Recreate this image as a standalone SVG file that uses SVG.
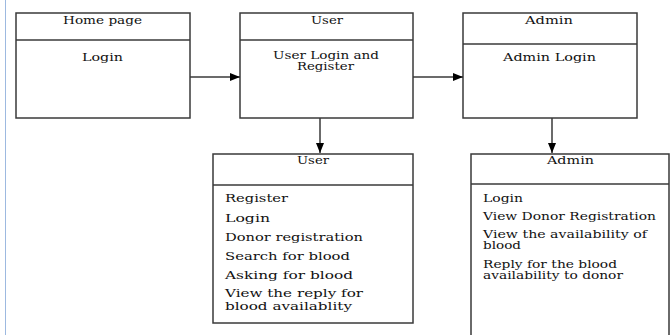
<svg xmlns="http://www.w3.org/2000/svg" width="672" height="335" viewBox="0 0 672 335">
<style>
.box{fill:#fff;stroke:#3a3a3a;stroke-width:1.5}
.div{stroke:#3a3a3a;stroke-width:1.5}
.t{font-family:"DejaVu Serif","Liberation Serif",serif;font-size:10.5px;fill:#111}
.c{text-anchor:middle}
.con{stroke:#3a3a3a;stroke-width:1.5;fill:none}
</style>
<defs>
<marker id="ah" markerWidth="10" markerHeight="8" refX="10" refY="4" orient="auto" markerUnits="userSpaceOnUse">
<path d="M0,0 L10,4 L0,8 Z" fill="#000"/>
</marker>
</defs>
<rect x="0" y="0" width="672" height="335" fill="#fff"/>
<line x1="5.5" y1="0" x2="5.5" y2="335" stroke="#9db9e0" stroke-width="1"/>
<g id="home">
<rect class="box" x="16" y="13" width="174" height="105"/>
<line class="div" x1="16" y1="40" x2="190" y2="40"/>
<text class="t" x="63" y="24" textLength="79" lengthAdjust="spacingAndGlyphs">Home page</text>
<text class="t" x="82" y="61" textLength="41" lengthAdjust="spacingAndGlyphs">Login</text>
</g>
<g id="user">
<rect class="box" x="240" y="13" width="173" height="105"/>
<line class="div" x1="240" y1="40" x2="413" y2="40"/>
<text class="t" x="311" y="24" textLength="32" lengthAdjust="spacingAndGlyphs">User</text>
<text class="t" x="273" y="59" textLength="106" lengthAdjust="spacingAndGlyphs">User Login and</text>
<text class="t" x="297" y="70" textLength="57" lengthAdjust="spacingAndGlyphs">Register</text>
</g>
<g id="admin">
<rect class="box" x="463" y="13" width="174" height="105"/>
<line class="div" x1="463" y1="44" x2="637" y2="44"/>
<text class="t" x="525" y="24" textLength="48" lengthAdjust="spacingAndGlyphs">Admin</text>
<text class="t" x="503" y="61" textLength="93" lengthAdjust="spacingAndGlyphs">Admin Login</text>
</g>
<g id="user2">
<rect class="box" x="213" y="154" width="200" height="169"/>
<line class="div" x1="213" y1="185" x2="413" y2="185"/>
<text class="t" x="297" y="164" textLength="32" lengthAdjust="spacingAndGlyphs">User</text>
<text class="t" x="225" y="202" textLength="63" lengthAdjust="spacingAndGlyphs">Register</text>
<text class="t" x="225" y="222" textLength="45" lengthAdjust="spacingAndGlyphs">Login</text>
<text class="t" x="225" y="241" textLength="138" lengthAdjust="spacingAndGlyphs">Donor registration</text>
<text class="t" x="225" y="260" textLength="125" lengthAdjust="spacingAndGlyphs">Search for blood</text>
<text class="t" x="225" y="279" textLength="128" lengthAdjust="spacingAndGlyphs">Asking for blood</text>
<text class="t" x="225" y="297" textLength="138" lengthAdjust="spacingAndGlyphs">View the reply for</text>
<text class="t" x="225" y="310" textLength="127" lengthAdjust="spacingAndGlyphs">blood availablity</text>
</g>
<g id="admin2">
<path class="box" d="M471,336 L471,154 L669,154 L669,336"/>
<line class="div" x1="471" y1="184" x2="669" y2="184"/>
<text class="t" x="547" y="164" textLength="47" lengthAdjust="spacingAndGlyphs">Admin</text>
<text class="t" x="483" y="202" textLength="40" lengthAdjust="spacingAndGlyphs">Login</text>
<text class="t" x="483" y="220" textLength="173" lengthAdjust="spacingAndGlyphs">View Donor Registration</text>
<text class="t" x="483" y="238" textLength="164" lengthAdjust="spacingAndGlyphs">View the availability of</text>
<text class="t" x="483" y="249" textLength="38" lengthAdjust="spacingAndGlyphs">blood</text>
<text class="t" x="483" y="268" textLength="134" lengthAdjust="spacingAndGlyphs">Reply for the blood</text>
<text class="t" x="483" y="279" textLength="140" lengthAdjust="spacingAndGlyphs">availability to donor</text>
</g>
<g id="connectors">
<line class="con" x1="190" y1="77" x2="240" y2="77" marker-end="url(#ah)"/>
<line class="con" x1="413" y1="77" x2="463" y2="77" marker-end="url(#ah)"/>
<line class="con" x1="320" y1="118" x2="320" y2="153" marker-end="url(#ah)"/>
<line class="con" x1="552" y1="118" x2="552" y2="153" marker-end="url(#ah)"/>
</g>
</svg>
